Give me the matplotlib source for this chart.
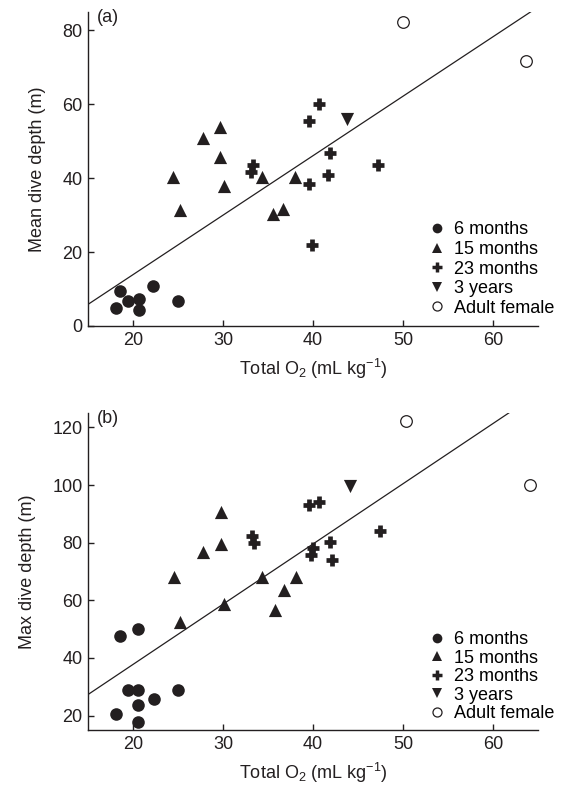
import matplotlib
matplotlib.use("Agg")
import matplotlib.pyplot as plt
from matplotlib.lines import Line2D

plt.rcParams['font.family'] = ['Liberation Sans', 'DejaVu Sans']
plt.rcParams['mathtext.fontset'] = 'custom'
plt.rcParams['mathtext.rm'] = 'Liberation Sans'
plt.rcParams['mathtext.it'] = 'Liberation Sans'

INK = '#231f20'

# ---------------- data: panel (a) mean dive depth ----------------
a_6m_x = [18.15, 18.5, 19.4, 20.7, 20.7, 22.2, 25.0]
a_6m_y = [4.8, 9.6, 6.9, 7.4, 4.2, 10.8, 6.9]
a_15m_x = [24.4, 25.2, 27.75, 29.7, 29.7, 30.1, 34.3, 35.6, 36.7, 38.0]
a_15m_y = [40.3, 31.5, 50.9, 54.0, 45.7, 37.8, 40.3, 30.4, 31.8, 40.3]
a_23m_x = [33.3, 33.1, 39.6, 40.7, 39.6, 39.9, 41.85, 41.7, 47.2]
a_23m_y = [43.7, 41.7, 55.4, 60.2, 38.5, 21.9, 46.7, 40.8, 43.6]
a_3y_x = [43.8]
a_3y_y = [56.1]
a_ad_x = [50.0, 63.7]
a_ad_y = [82.2, 71.8]
a_fit = (1.61, -18.3)   # slope, intercept

# ---------------- data: panel (b) max dive depth ----------------
b_6m_x = [18.15, 18.5, 19.4, 20.6, 20.6, 20.6, 20.6, 22.3, 25.0]
b_6m_y = [20.6, 47.6, 29.0, 29.0, 50.2, 23.6, 17.8, 25.9, 29.0]
b_15m_x = [24.5, 25.2, 27.8, 29.8, 29.8, 30.1, 34.3, 35.8, 36.8, 38.1]
b_15m_y = [68.1, 52.5, 76.6, 90.5, 79.5, 58.6, 68.1, 56.6, 63.5, 68.1]
b_23m_x = [33.2, 33.4, 39.5, 40.7, 40.0, 39.8, 41.85, 42.1, 47.4]
b_23m_y = [82.4, 79.8, 93.0, 94.0, 78.1, 75.8, 80.1, 74.0, 84.1]
b_3y_x = [44.1]
b_3y_y = [99.8]
b_ad_x = [50.3, 64.1]
b_ad_y = [122.2, 100.1]
b_fit = (2.09, -4.05)

labels = ['6 months', '15 months', '23 months', '3 years', 'Adult female']
xticks = [20, 30, 40, 50, 60]
a_yticks = [0, 20, 40, 60, 80]
b_yticks = [20, 40, 60, 80, 100, 120]

fig = plt.figure(figsize=(5.75, 7.91), dpi=100)
W, H = 575, 791
def ax_rect(l, t, r, b):
    return [l / W, 1 - b / H, (r - l) / W, (b - t) / H]

ax_a = fig.add_axes(ax_rect(88, 12, 538, 326))
ax_b = fig.add_axes(ax_rect(88, 413, 538, 730))

FS = 13

def draw(ax, d6, d15, d23, d3, dad, fit, ylim, yticks, ylabel, tag, lspace, ly):
    ax.scatter(*d6, marker='o', s=82, color=INK, linewidths=0, zorder=3)
    ax.scatter(*d15, marker='^', s=90, color=INK, linewidths=0, zorder=3)
    ax.scatter(*d23, marker='+', s=85, color=INK, linewidths=3.4, zorder=3)
    ax.scatter(*d3, marker='v', s=90, color=INK, linewidths=0, zorder=3)
    ax.scatter(*dad, marker='o', s=70, facecolors='white', edgecolors=INK,
               linewidths=0.9, zorder=3)
    xs = [15, 65]
    ax.plot(xs, [fit[0] * x + fit[1] for x in xs], color=INK, lw=0.9, zorder=2)
    ax.set_xlim(15, 65)
    ax.set_ylim(*ylim)
    ax.set_xticks(xticks)
    ax.set_yticks(yticks)
    for s in ['top', 'right']:
        ax.spines[s].set_visible(False)
    for s in ['left', 'bottom']:
        ax.spines[s].set_color(INK)
        ax.spines[s].set_linewidth(1.0)
    ax.tick_params(direction='in', length=4, width=1.0, colors=INK,
                   labelsize=FS, pad=4)
    ax.set_xlabel(r'Total O$_2$ (mL kg$^{-1}$)', fontsize=FS, color=INK, labelpad=6)
    ax.set_ylabel(ylabel, fontsize=FS, color=INK, labelpad=12)
    ax.text(0.02, 1.01, tag, transform=ax.transAxes, fontsize=FS, color=INK,
            ha='left', va='top')
    handles = [
        Line2D([], [], ls='none', marker='o', ms=7, mfc=INK, mec=INK, mew=0),
        Line2D([], [], ls='none', marker='^', ms=7, mfc=INK, mec=INK, mew=0),
        Line2D([], [], ls='none', marker='+', ms=6.5, mec=INK, mew=2.5),
        Line2D([], [], ls='none', marker='v', ms=7, mfc=INK, mec=INK, mew=0),
        Line2D([], [], ls='none', marker='o', ms=6.5, mfc='white', mec=INK, mew=0.9),
    ]
    ax.legend(handles, labels, loc='lower left', bbox_to_anchor=(0.755, ly),
              frameon=False, fontsize=FS, handlelength=1.0, handletextpad=0.45,
              labelspacing=lspace, borderpad=0, borderaxespad=0)

draw(ax_a, (a_6m_x, a_6m_y), (a_15m_x, a_15m_y), (a_23m_x, a_23m_y),
     (a_3y_x, a_3y_y), (a_ad_x, a_ad_y), a_fit, (0, 85), a_yticks,
     'Mean dive depth (m)', '(a)', 0.14, 0.03)
draw(ax_b, (b_6m_x, b_6m_y), (b_15m_x, b_15m_y), (b_23m_x, b_23m_y),
     (b_3y_x, b_3y_y), (b_ad_x, b_ad_y), b_fit, (15, 125), b_yticks,
     'Max dive depth (m)', '(b)', 0.08, 0.025)

fig.savefig('out.png', dpi=100)
